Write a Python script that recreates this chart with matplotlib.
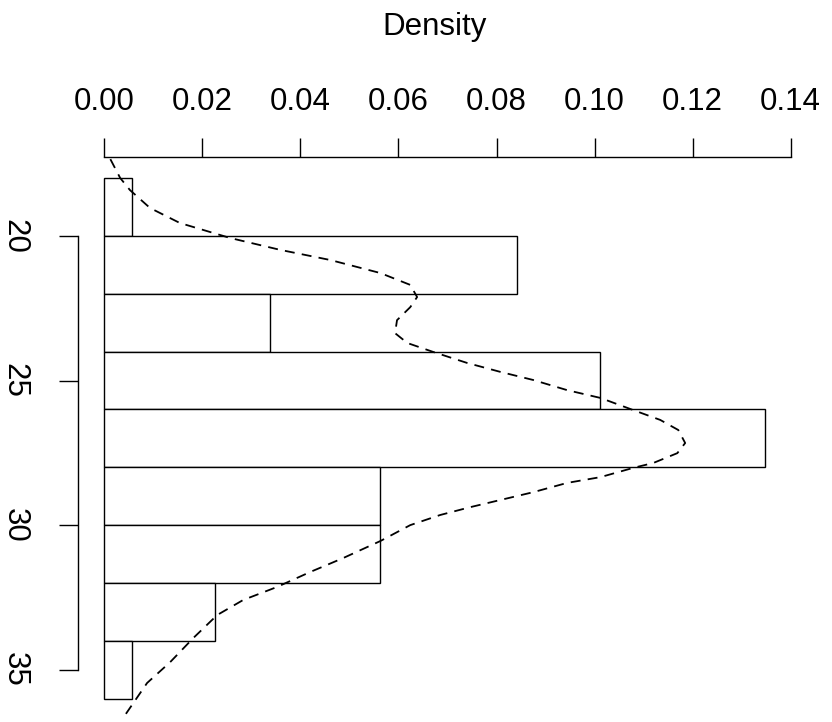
import numpy as np
import matplotlib
matplotlib.use("Agg")
import matplotlib.pyplot as plt

plt.rcParams['font.family'] = ['Liberation Sans', 'DejaVu Sans']

# histogram of the values (density scale), bins of width 2
bin_edges = [18, 20, 22, 24, 26, 28, 30, 32, 34, 36]
counts = [1, 15, 6, 18, 24, 10, 10, 4, 1]
n = sum(counts)
dens = [c / (n * 2) for c in counts]

# kernel density curve
kde_y = [17.34, 17.99, 18.41, 19.03, 19.55, 20.07, 20.48, 20.83, 21.28, 21.69,
         22.11, 22.46, 22.91, 23.36, 23.70, 24.01, 24.39, 24.70, 24.98, 25.33,
         25.60, 26.02, 26.36, 26.71, 27.16, 27.51, 27.85, 28.02, 28.34, 28.54,
         28.86, 29.13, 29.38, 29.65, 30.00, 30.55, 31.14, 31.62, 32.14, 32.59,
         33.11, 33.91, 34.74, 35.46, 36.67, 36.72]
kde_d = [0.0012, 0.0032, 0.0052, 0.0093, 0.0154, 0.0257, 0.0359, 0.0461, 0.0563, 0.0624,
         0.0638, 0.0624, 0.0597, 0.0593, 0.0618, 0.0671, 0.0740, 0.0808, 0.0875, 0.0944,
         0.1012, 0.1079, 0.1134, 0.1171, 0.1185, 0.1169, 0.1120, 0.1079, 0.1012, 0.0944,
         0.0875, 0.0808, 0.0746, 0.0685, 0.0624, 0.0563, 0.0487, 0.0420, 0.0352, 0.0283,
         0.0230, 0.0181, 0.0134, 0.0087, 0.0038, 0.0037]

xticks = [0.00, 0.02, 0.04, 0.06, 0.08, 0.10, 0.12, 0.14]
yticks = [20, 25, 30, 35]

W, H = 832, 722
fig = plt.figure(figsize=(W / 100, H / 100), dpi=100)
ax = fig.add_axes([78 / W, 1 - 719.4 / H, (792 - 78) / W, (719.4 - 157.4) / H])

lefts = bin_edges[:-1]
ax.barh(lefts, dens, height=2, align='edge', color='white',
        edgecolor='black', linewidth=1.0)
ax.plot(kde_d, kde_y, color='black', linewidth=1.3, dashes=(5.5, 4))

ax.set_xlim(-0.0054, 0.1403)
ax.set_ylim(36.72, 17.28)

for s in ['bottom', 'right']:
    ax.spines[s].set_visible(False)
ax.spines['top'].set_bounds(0, 0.14)
ax.spines['left'].set_bounds(20, 35)
ax.spines['top'].set_linewidth(1.0)
ax.spines['left'].set_linewidth(1.0)

ax.xaxis.tick_top()
ax.set_xticks(xticks)
ax.set_xticklabels(['%.2f' % v for v in xticks])
ax.set_yticks(yticks)
ax.set_yticklabels([str(v) for v in yticks], rotation=-90, va='center')
ax.tick_params(axis='both', direction='out', length=14, width=1.0,
               labelsize=22.5)
ax.tick_params(axis='x', pad=15)
ax.tick_params(axis='y', pad=21)

fig.text(435 / W, 1 - 35 / H, 'Density', ha='center', va='baseline',
         fontsize=22.5)

fig.savefig('out.png', dpi=100, facecolor='white')
